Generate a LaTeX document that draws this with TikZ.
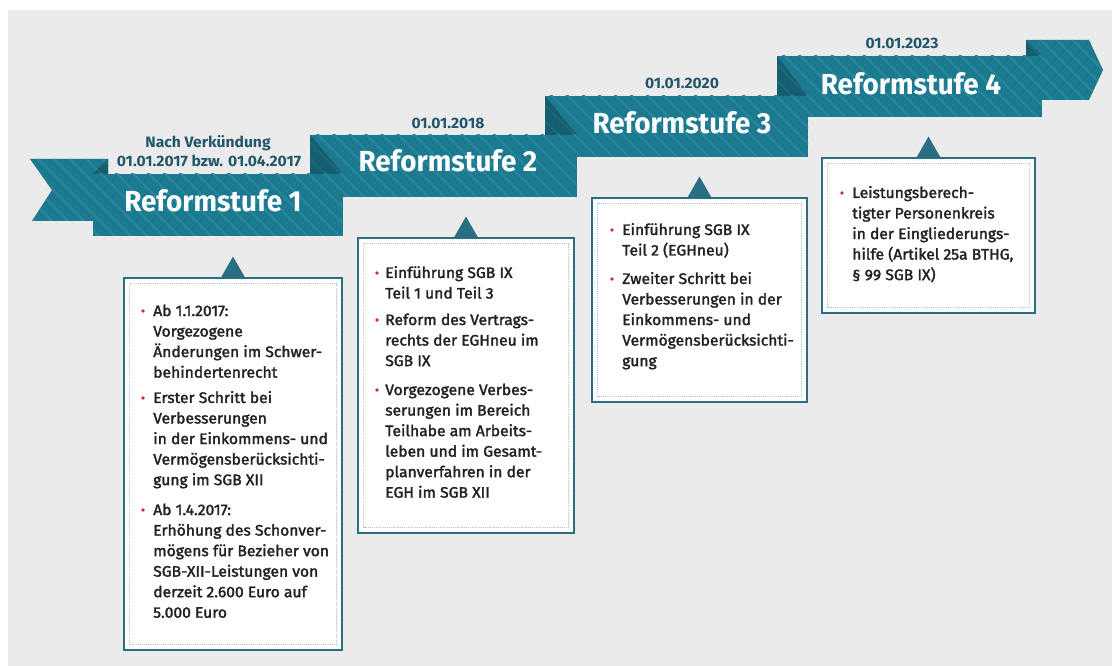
\documentclass[tikz,border=0pt]{standalone}
\usepackage{fontspec}
\setmainfont{Fira Sans}
\newfontfamily\titlefont[FakeStretch=0.96]{Fira Sans}
\newfontfamily\datefont[FakeStretch=1.04]{Fira Sans}
\newfontfamily\bodyfont[FakeStretch=1.03,FakeBold=2]{Fira Sans}
\usetikzlibrary{patterns.meta,fit,calc}
\definecolor{band}{HTML}{1C7A90}
\definecolor{stripe}{HTML}{28869B}
\definecolor{fold}{HTML}{155E70}
\definecolor{foldstripe}{HTML}{1C6879}
\definecolor{datecol}{HTML}{22566A}
\definecolor{boxline}{HTML}{2A6E84}
\definecolor{dotcol}{HTML}{A9C8D2}
\definecolor{bulletcol}{HTML}{D7282F}
\definecolor{bgcol}{HTML}{EBEBEB}
\definecolor{txtcol}{HTML}{222222}
\tikzset{
  ribbon/.style={fill=band, postaction={pattern={Lines[angle=-45,distance=8.5pt,line width=1.6pt]}, pattern color=stripe}},
  foldpart/.style={fill=fold, postaction={pattern={Lines[angle=-45,distance=8.5pt,line width=1.6pt]}, pattern color=foldstripe}},
  title/.style={anchor=base, inner sep=0, text=white, font=\titlefont\bfseries\fontsize{21.75pt}{24pt}\selectfont},
  datelbl/.style={anchor=base, inner sep=0, text=datecol, font=\datefont\bfseries\fontsize{11.3pt}{13pt}\selectfont},
  infobox/.style={draw=boxline, line width=2.2pt, fill=white, inner sep=0},
  dotframe/.style={draw=dotcol, line width=1.1pt, dash pattern=on 0.8pt off 0.8pt},
  pointer/.style={fill=boxline},
  item/.style={anchor=base west, align=left, inner sep=0, text=txtcol, font=\bodyfont\fontsize{11.4pt}{15.4pt}\selectfont},
  bul/.style={fill=bulletcol}
}
\begin{document}
\begin{tikzpicture}[x=0.75pt,y=-0.75pt]
\useasboundingbox (0,0) rectangle (1112,666);
\fill[white] (0,0) rectangle (1112,666);
\fill[bgcol] (8,10) rectangle (1112,666);

% ribbon, back to front
\path[ribbon] (1026,40) -- (1089,40) -- (1103,70) -- (1089,100) -- (1026,100) -- cycle;
\path[foldpart] (1026,40) -- (1042,56) -- (1026,56) -- cycle;
\path[ribbon] (777,56) rectangle (1042,117);
\path[foldpart] (777,56) -- (808,96) -- (777,96) -- cycle;
\path[ribbon] (545,96) rectangle (808,157);
\path[foldpart] (545,96) -- (577,135) -- (545,135) -- cycle;
\path[ribbon] (310,135) rectangle (577,197);
\path[foldpart] (310,135) -- (343,174) -- (310,174) -- cycle;
\path[ribbon] (30,159) -- (108,159) -- (108,221) -- (32,221) -- (52,190) -- cycle;
\path[foldpart] (108,159) -- (93,174) -- (108,174) -- cycle;
\path[ribbon] (93,174) rectangle (343,236);

% titles
\node[title] (t1) at (213,212) {Reformstufe 1};
\node[title] (t2) at (448,172) {Reformstufe 2};
\node[title] (t3) at (682,134) {Reformstufe 3};
\node[title] (t4) at (911,95) {Reformstufe 4};

% dates
\node[datelbl] (d1a) at (208,148) {Nach Verkündung};
\node[datelbl] (d1b) at (209,167) {01.01.2017 bzw. 01.04.2017};
\node[datelbl] (d2) at (448,129) {01.01.2018};
\node[datelbl] (d3) at (682,89) {01.01.2020};
\node[datelbl] (d4) at (902,49) {01.01.2023};

% boxes
\node[infobox, fit={(124,278) (342,650)}] (box1) {};
\node[infobox, fit={(358,238) (574,533)}] (box2) {};
\node[infobox, fit={(592,198) (807,402)}] (box3) {};
\node[infobox, fit={(822,158) (1035,313)}] (box4) {};
\foreach \b in {box1,box2,box3,box4}{
  \draw[dotframe] ($(\b.north west)+(7,7)$) rectangle ($(\b.south east)+(-7,-7)$);
  \fill[pointer] ($(\b.north)+(-12,1)$) -- ($(\b.north)+(0,-20)$) -- ($(\b.north)+(12,1)$) -- cycle;
}

% box 1 (anchors are at the last line's baseline)
\fill[bul] (143,311) circle (1.8);
\node[item] (i11) at (153,377.6) {Ab 1.1.2017:\\Vorgezogene\\Änderungen im Schwer-\\behindertenrecht};
\fill[bul] (143,398) circle (1.8);
\node[item] (i12) at (153,485.1) {Erster Schritt bei\\Verbesserungen\\in der Einkommens- und\\Vermögensberücksichti-\\gung im SGB XII};
\fill[bul] (143,510) circle (1.8);
\node[item] (i13) at (153,617.7) {Ab 1.4.2017:\\Erhöhung des Schonver-\\mögens für Bezieher von\\SGB-XII-Leistungen von\\derzeit 2.600 Euro auf\\5.000 Euro};

% box 2
\fill[bul] (377,273) circle (1.8);
\node[item] (i21) at (385,298.5) {Einführung SGB IX\\Teil 1 und Teil 3};
\fill[bul] (377,320) circle (1.8);
\node[item] (i22) at (385,366.1) {Reform des Vertrags-\\rechts der EGHneu im\\SGB IX};
\fill[bul] (377,390) circle (1.8);
\node[item] (i23) at (385,497.7) {Vorgezogene Verbes-\\serungen im Bereich\\Teilhabe am Arbeits-\\leben und im Gesamt-\\planverfahren in der\\EGH im SGB XII};

% box 3
\fill[bul] (612,230) circle (1.8);
\node[item] (i31) at (622,255.5) {Einführung SGB IX\\Teil 2 (EGHneu)};
\fill[bul] (612,279) circle (1.8);
\node[item] (i32) at (622,366.1) {Zweiter Schritt bei\\Verbesserungen in der\\Einkommens- und\\Vermögensberücksichti-\\gung};

% box 4
\fill[bul] (842,193) circle (1.8);
\node[item] (i41) at (852,280.1) {Leistungsberech-\\tigter Personenkreis\\in der Eingliederungs-\\hilfe (Artikel 25a BTHG,\\§ 99 SGB IX)};
\end{tikzpicture}
\end{document}
